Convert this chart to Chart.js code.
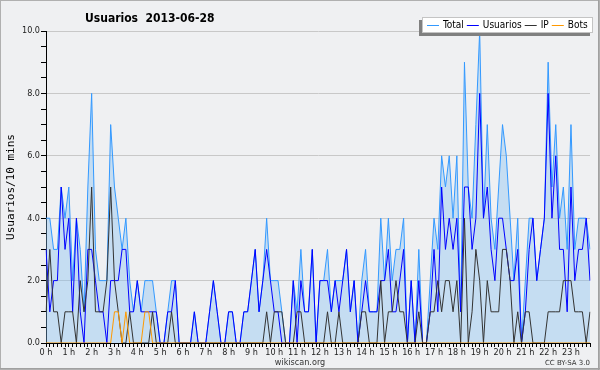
<!DOCTYPE html>
<html><head><meta charset="utf-8">
<script src="https://cdn.jsdelivr.net/npm/chart.js@4.4.0/dist/chart.umd.min.js"></script>
<style>html,body{margin:0;padding:0;background:#fff;}canvas{display:block;}</style>
</head><body>
<canvas id="c" width="600" height="370"></canvas>
<script>
const chartTitle = 'Usuarios  2013-06-28';
const yTitle = 'Usuarios/10 mins';
const hourLabels = ['0 h','1 h','2 h','3 h','4 h','5 h','6 h','7 h','8 h','9 h','10 h','11 h','12 h','13 h','14 h','15 h','16 h','17 h','18 h','19 h','20 h','21 h','22 h','23 h'];
const yTickLabels = ['0.0','2.0','4.0','6.0','8.0','10.0'];
const slots = Array.from({length: 144}, (_, i) => String(Math.floor(i / 6)).padStart(2, '0') + ':' + String((i % 6) * 10).padStart(2, '0'));
const seriesNames = ['Total', 'Usuarios', 'IP', 'Bots'];

const total = [
  4,4,3,3,5,4,5,2,4,3,1,5,
  8,3,2,2,2,7,5,4,3,4,2,1,
  2,1,2,2,2,1,0,0,1,2,2,0,
  0,0,0,1,0,0,0,1,2,1,0,0,
  1,1,0,0,1,1,2,3,1,2,4,2,
  2,2,1,0,0,2,1,3,1,1,3,0,
  2,2,3,1,2,2,2,3,1,2,0,2,
  3,1,1,1,4,2,4,2,3,3,4,0,
  2,0,3,0,0,2,4,3,6,5,6,4,
  6,1,9,5,4,7,10,4,7,4,3,5,
  7,6,4,2,4,0,2,4,4,2,3,4,
  9,5,7,4,5,3,7,3,4,4,4,3
];
const usuarios = [
  3,1,2,2,5,3,4,1,4,1,0,3,
  3,2,1,1,0,2,2,2,3,3,1,1,
  2,1,1,1,1,1,0,0,1,1,2,0,
  0,0,0,1,0,0,0,1,2,1,0,0,
  1,1,0,0,1,1,2,3,1,2,3,2,
  1,1,0,0,0,2,0,2,1,1,3,0,
  2,2,2,1,2,1,2,3,1,2,0,1,
  2,1,1,1,2,2,3,1,1,2,3,0,
  2,0,2,0,0,1,3,1,5,3,4,3,
  4,1,5,5,3,4,8,4,5,3,2,4,
  4,3,2,2,3,0,1,3,4,2,3,4,
  8,4,6,3,3,1,5,2,3,3,4,2
];
const ip = [
  1,3,1,1,0,1,1,1,0,2,1,2,
  5,1,1,1,2,5,2,1,0,0,1,0,
  0,0,0,0,1,0,0,0,0,1,0,0,
  0,0,0,0,0,0,0,0,0,0,0,0,
  0,0,0,0,0,0,0,0,0,0,1,0,
  1,1,1,0,0,0,1,1,0,0,0,0,
  0,0,1,0,0,1,0,0,0,0,0,1,
  1,0,0,0,2,0,1,1,2,1,1,0,
  0,0,1,0,0,1,1,2,1,2,2,1,
  2,0,4,0,1,3,2,0,2,1,1,1,
  3,3,2,0,1,0,1,1,0,0,0,0,
  1,1,1,1,2,2,2,1,1,1,0,1
];
const bots = [
  0,0,0,0,0,0,0,0,0,0,0,0,
  0,0,0,0,0,0,1,1,0,1,0,0,
  0,0,1,1,0,0,0,0,0,0,0,0,
  0,0,0,0,0,0,0,0,0,0,0,0,
  0,0,0,0,0,0,0,0,0,0,0,0,
  0,0,0,0,0,0,0,0,0,0,0,0,
  0,0,0,0,0,0,0,0,0,0,0,0,
  0,0,0,0,0,0,0,0,0,0,0,0,
  0,0,0,0,0,0,0,0,0,0,0,0,
  0,0,0,0,0,0,0,0,0,0,0,0,
  0,0,0,0,0,0,0,0,0,0,0,0,
  0,0,0,0,0,0,0,0,0,0,0,0
];

const COND = '"DejaVu Sans Condensed", "DejaVu Sans", sans-serif';
const BG = '#eff0f2';

const decor = {
  id: 'decor',
  beforeDraw(chart) {
    const c = chart.ctx;
    c.save();
    c.fillStyle = BG;
    c.fillRect(0, 0, chart.width, chart.height);
    c.restore();
  },
  afterDraw(chart) {
    const c = chart.ctx;
    c.save();
    // frame
    c.strokeStyle = '#b0b0b0';
    c.lineWidth = 1;
    c.strokeRect(0.5, 0.5, chart.width - 1, chart.height - 1);
    c.strokeStyle = '#a0a0a0';
    c.beginPath();
    c.moveTo(chart.width - 1.5, 0); c.lineTo(chart.width - 1.5, chart.height);
    c.moveTo(0, chart.height - 1.5); c.lineTo(chart.width, chart.height - 1.5);
    c.stroke();
    // title
    c.fillStyle = '#000';
    c.font = 'bold 12px ' + COND;
    c.textBaseline = 'alphabetic';
    c.textAlign = 'left';
    c.fillText(chartTitle, 85, 22);
    // legend box
    c.fillStyle = '#808080';
    c.fillRect(419, 20, 171, 16);
    c.fillStyle = '#ffffff';
    c.fillRect(422, 17, 171, 16);
    c.strokeStyle = '#c4c4c4';
    c.strokeRect(422.5, 17.5, 170, 15);
    c.font = '10px ' + COND;
    c.textBaseline = 'middle';
    let x = 427;
    chart.data.datasets.forEach(ds => {
      c.strokeStyle = ds.borderColor;
      c.lineWidth = 1;
      c.beginPath();
      c.moveTo(x, 25.5); c.lineTo(x + 12, 25.5);
      c.stroke();
      c.fillStyle = '#000';
      c.fillText(ds.label, x + 16, 25);
      x += 16 + c.measureText(ds.label).width + 3;
    });
    // footer
    c.textBaseline = 'alphabetic';
    c.fillStyle = '#333';
    c.font = '9px ' + COND;
    c.textAlign = 'center';
    c.fillText('wikiscan.org', 300, 365);
    c.font = '7px "DejaVu Sans", sans-serif';
    c.textAlign = 'right';
    c.fillText('CC BY-SA 3.0', 590, 365);
    c.restore();
  }
};

new Chart(document.getElementById('c'), {
  type: 'line',
  data: {
    labels: slots,
    datasets: [
      { label: seriesNames[0], data: total, borderColor: '#3399ff', backgroundColor: 'rgba(128,189,242,0.38)', fill: 'origin', order: 3 },
      { label: seriesNames[1], data: usuarios, borderColor: '#0000ff', backgroundColor: '#0000ff', fill: false, order: 2 },
      { label: seriesNames[2], data: ip, borderColor: '#333333', backgroundColor: '#333333', fill: false, order: 1 },
      { label: seriesNames[3], data: bots, borderColor: '#ff9900', backgroundColor: '#ff9900', fill: false, order: 0 }
    ]
  },
  options: {
    responsive: false,
    animation: false,
    devicePixelRatio: 1,
    events: [],
    elements: { point: { radius: 0 }, line: { borderWidth: 1, tension: 0 } },
    layout: { padding: { left: 0, right: 10, top: 31, bottom: 0 } },
    plugins: { legend: { display: false }, title: { display: false }, tooltip: { enabled: false } },
    scales: {
      x: {
        type: 'category',
        offset: false,
        grid: { drawOnChartArea: false, drawTicks: true, tickLength: 4, tickColor: '#000' },
        border: { display: true, color: '#000', width: 1 },
        ticks: {
          autoSkip: false, maxRotation: 0, minRotation: 0, padding: 0,
          color: '#222', font: { family: COND, size: 9 },
          callback: (v, i) => (i % 6 === 0 ? hourLabels[i / 6] : '')
        },
        afterFit: s => { s.height = 27; }
      },
      y: {
        min: 0, max: 10,
        grid: {
          color: ctx => (ctx.tick && ctx.tick.value > 0 && ctx.tick.value % 2 === 0 ? '#c8c8c8' : 'rgba(0,0,0,0)'),
          tickColor: '#000', tickLength: 5, drawTicks: true
        },
        border: { display: true, color: '#000', width: 1 },
        ticks: {
          stepSize: 0.5, maxTicksLimit: 30, autoSkip: false, padding: 1,
          color: '#222', font: { family: COND, size: 9 },
          callback: v => (v % 2 === 0 ? yTickLabels[v / 2] : '')
        },
        title: { display: true, text: yTitle, color: '#000', font: { family: '"DejaVu Sans Mono", monospace', size: 11 }, padding: { top: 5, bottom: 0 } },
        afterFit: s => { s.width = 46; }
      }
    }
  },
  plugins: [decor]
});
</script>
</body></html>
